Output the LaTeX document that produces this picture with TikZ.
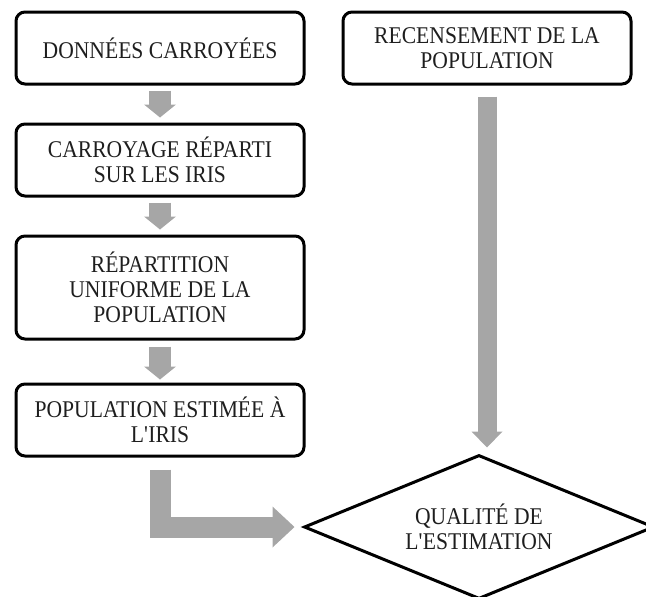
\documentclass[tikz,border=0pt]{standalone}
\usepackage{fontspec}
\setmainfont{Liberation Serif}[FakeStretch=0.9]
\usetikzlibrary{positioning, arrows.meta, shapes.geometric}
\definecolor{flechegris}{RGB}{166,166,166}
\definecolor{texte}{RGB}{30,30,30}

\begin{document}
\begin{tikzpicture}[node distance=37pt,
    every node/.style={font=\fontsize{24}{25}\selectfont, text=texte},
    boite/.style={draw, line width=3pt, rounded corners=9pt, minimum width=288pt,
      minimum height=72pt, align=center},
    losange/.style={diamond, draw, line width=3pt, aspect=2.4, minimum width=350pt,
      minimum height=144pt, align=center, inner sep=0pt},
    fleche/.style={draw=flechegris, line width=22pt,
      -{Triangle[length=13pt, width=32pt, line width=0pt]}}]
  \useasboundingbox (0,0) rectangle (646pt,-597pt);
  % Chaine de calcul
  \node[boite, anchor=north west] (donnees) at (14.5pt,-10.5pt) {DONNÉES CARROYÉES};
  \node[boite, below=of donnees] (carroyage) {CARROYAGE RÉPARTI\\SUR LES IRIS};
  \node[boite, below=of carroyage, minimum height=103pt] (uniforme)
    {RÉPARTITION\\UNIFORME DE LA\\POPULATION};
  \node[boite, below=42pt of uniforme] (estimee) {POPULATION ESTIMÉE À\\L\textquotesingle IRIS};
  % Reference et comparaison
  \node[boite, right=36pt of donnees] (recensement) {RECENSEMENT DE LA\\POPULATION};
  \node[losange, below=368pt of recensement, xshift=-8pt] (qualite)
    {QUALITÉ DE\\L\textquotesingle ESTIMATION};
  \draw[fleche] ([yshift=-5pt]donnees.south) -- ([yshift=5pt]carroyage.north);
  \draw[fleche] ([yshift=-5pt]carroyage.south) -- ([yshift=5pt]uniforme.north);
  \draw[fleche] ([yshift=-6pt]uniforme.south) -- ([yshift=3pt]estimee.north);
  \draw[fleche, line width=21pt, -{Triangle[length=22pt, width=41pt, line width=0pt]}]
    ([yshift=-12pt]estimee.south) |- ([xshift=-8pt]qualite.west);
  \draw[fleche, line width=19pt, -{Triangle[length=16pt, width=31pt, line width=0pt]}]
    ([yshift=-11pt]recensement.south) -- ([yshift=6pt]recensement.south |- qualite.north);
\end{tikzpicture}
\end{document}
